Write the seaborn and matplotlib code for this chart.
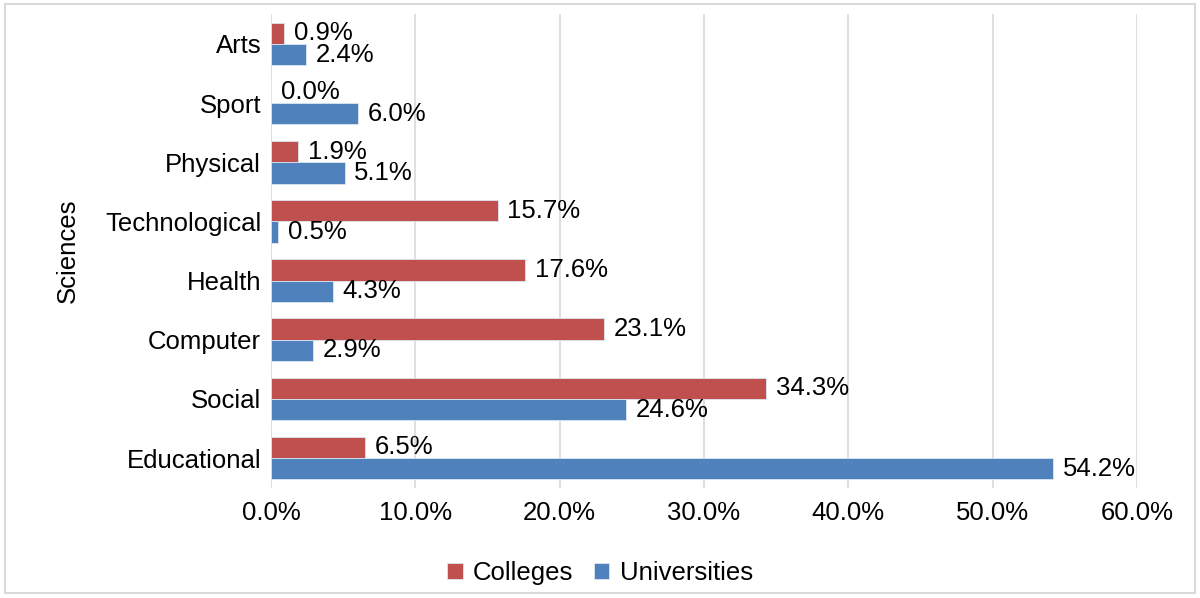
import pandas as pd
import seaborn as sns
import matplotlib.pyplot as plt
from matplotlib.patches import Rectangle

# values (percent)
sciences = ["Arts", "Sport", "Physical", "Technological", "Health",
            "Computer", "Social", "Educational"]
colleges = [0.9, 0.0, 1.9, 15.7, 17.6, 23.1, 34.3, 6.5]
universities = [2.4, 6.0, 5.1, 0.5, 4.3, 2.9, 24.6, 54.2]

df = pd.concat([
    pd.DataFrame({"science": sciences, "value": colleges, "group": "Colleges"}),
    pd.DataFrame({"science": sciences, "value": universities, "group": "Universities"}),
])

sns.set_style("white")
plt.rcParams["font.family"] = ["Liberation Sans", "DejaVu Sans"]
plt.rcParams["text.color"] = "black"
plt.rcParams["axes.labelcolor"] = "black"
plt.rcParams["xtick.color"] = "black"
plt.rcParams["ytick.color"] = "black"
fs = 18.5

fig = plt.figure(figsize=(12, 5.98), dpi=100)
ax = fig.add_axes([0.2258, 0.1846, 0.7217, 0.7914])

sns.barplot(data=df, y="science", x="value", hue="group", orient="h",
            palette=["#C0504D", "#4F81BD"], width=0.72, ax=ax,
            saturation=1, errorbar=None, edgecolor="#DDE6F0", linewidth=0.6)

for cont in ax.containers:
    ax.bar_label(cont, labels=[f"{v:.1f}%" for v in cont.datavalues],
                 padding=7, fontsize=fs, color="black")

ax.set_xlim(0, 60)
ax.set_xticks(range(0, 61, 10))
ax.set_xticklabels([f"{t:.1f}%" for t in range(0, 61, 10)], fontsize=fs)
ax.tick_params(axis="y", labelsize=fs, length=0, pad=7)
ax.tick_params(axis="x", length=0, pad=10)
ax.set_xlabel("")
ax.set_ylabel("Sciences", fontsize=fs, labelpad=18)
ax.grid(axis="x", color="#D9D9D9", linewidth=1.2)
ax.set_axisbelow(True)
for s in ax.spines.values():
    s.set_visible(False)

ax.legend(loc="center", ncol=2, frameon=False,
          fontsize=fs, handlelength=0.6, handleheight=0.6,
          handletextpad=0.4, columnspacing=0.8)
leg = ax.get_legend()
leg.set_bbox_to_anchor((0.5, 0.042), transform=fig.transFigure)

fig.patches.append(Rectangle((0.004, 0.008), 0.992, 0.985, transform=fig.transFigure,
                             fill=False, edgecolor="#D9D9D9", linewidth=1.5))

fig.savefig("out.png", dpi=100)
